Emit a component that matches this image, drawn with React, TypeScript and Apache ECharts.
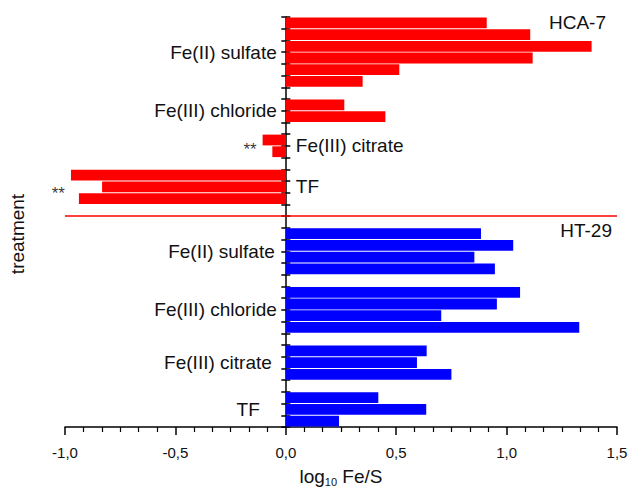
import React, { useEffect, useRef } from 'react';
import * as echarts from 'echarts';

// HCA-7 (red) values, log10 Fe/S
const hcaSulfate = [0.91, 1.107, 1.385, 1.118, 0.514, 0.348];
const hcaChloride = [0.265, 0.451];
const hcaCitrate = [-0.105, -0.061];
const hcaTF = [-0.973, -0.832, -0.937];
// HT-29 (blue) values
const htSulfate = [0.884, 1.03, 0.854, 0.947];
const htChloride = [1.061, 0.956, 0.704, 1.329];
const htCitrate = [0.638, 0.594, 0.75];
const htTF = [0.419, 0.636, 0.241];

const treatments = ['Fe(II) sulfate', 'Fe(III) chloride', 'Fe(III) citrate', 'TF'];
const cellLines = ['HCA-7', 'HT-29'];
const xTickValues = [-1.0, -0.5, 0.0, 0.5, 1.0, 1.5];
// which labels sit to the right of the axis (HCA-7 citrate and TF)
const hcaLabelRight = [false, false, true, true];
// "**" significance markers (HCA-7 citrate, HCA-7 TF)
const sigMarks = ['**', '**'];

const FONT = 'Arial, "Liberation Sans", Helvetica, sans-serif';

export default function App() {
  const ref = useRef<HTMLDivElement>(null);

  useEffect(() => {
    if (!ref.current) return;
    const chart = echarts.init(ref.current, undefined, { renderer: 'svg' });

    const hcaGroups = [hcaSulfate, hcaChloride, hcaCitrate, hcaTF];
    const htGroups = [htSulfate, htChloride, htCitrate, htTF];

    const red: (number | null)[] = [];
    const blue: (number | null)[] = [];
    // label descriptors: center on the slot scale, side, extra right padding
    const labels: { text: string; center: number; right: boolean; pad: number }[] = [];
    const hcaCenters: number[] = [];

    hcaGroups.forEach((g, gi) => {
      const start = red.length;
      g.forEach((v) => {
        red.push(v);
        blue.push(null);
      });
      const center = start + g.length / 2;
      hcaCenters.push(center);
      labels.push({ text: treatments[gi], center, right: hcaLabelRight[gi], pad: 0 });
      red.push(null);
      blue.push(null);
    });
    const separator = red.length; // boundary between cell lines
    red.push(null);
    blue.push(null);
    const htPad = [2, 0, 5, 17];
    htGroups.forEach((g, gi) => {
      const start = blue.length;
      g.forEach((v) => {
        blue.push(v);
        red.push(null);
      });
      const center = start + g.length / 2;
      labels.push({ text: treatments[gi], center, right: false, pad: htPad[gi] });
      if (gi < htGroups.length - 1) {
        red.push(null);
        blue.push(null);
      }
    });
    const nSlots = red.length;
    const cats = red.map((_, i) => String(i));

    const labelColor = '#111';
    const catFont = 19;

    const sigData = [
      { value: [hcaCitrate[0], hcaCenters[2]], label: sigMarks[0] },
      { value: [hcaTF[0], hcaCenters[3] + 0.2], label: sigMarks[1] },
    ];

    const staticGraphics: any[] = [
      {
        type: 'text',
        x: 606,
        y: 22,
        style: { text: cellLines[0], align: 'right', verticalAlign: 'middle', fontSize: 19, fontFamily: FONT, fill: labelColor },
      },
      {
        type: 'text',
        x: 612,
        y: 230,
        style: { text: cellLines[1], align: 'right', verticalAlign: 'middle', fontSize: 19, fontFamily: FONT, fill: labelColor },
      },
      {
        type: 'text',
        x: 17,
        y: 234,
        rotation: Math.PI / 2,
        style: { text: 'treatment', align: 'center', verticalAlign: 'middle', fontSize: 19, fontFamily: FONT, fill: labelColor },
      },
    ];

    chart.setOption({
      animation: false,
      grid: { left: 65, right: 13, top: 17, bottom: 63, containLabel: false, outerBoundsMode: 'none' },
      xAxis: {
        type: 'value',
        min: xTickValues[0],
        max: xTickValues[xTickValues.length - 1],
        interval: 0.5,
        position: 'bottom',
        name: '{a|log}{s|10}{a| Fe/S}',
        nameLocation: 'middle',
        nameGap: 39,
        nameTextStyle: {
          rich: {
            a: { fontSize: 19, fontFamily: FONT, color: labelColor },
            s: { fontSize: 11, fontFamily: FONT, color: labelColor, verticalAlign: 'bottom', padding: [10, 0, 0, 0] },
          },
        },
        axisLine: { onZero: false, lineStyle: { color: '#000', width: 1.5 } },
        axisTick: { length: 8, lineStyle: { color: '#000', width: 1.5 } },
        minorTick: { show: true, splitNumber: 6, length: 5, lineStyle: { color: '#000', width: 1.2 } },
        splitLine: { show: false },
        axisLabel: {
          fontSize: 15,
          fontFamily: FONT,
          color: labelColor,
          margin: 18,
          formatter: (v: number) => v.toFixed(1).replace('.', ','),
        },
      },
      yAxis: [
        {
          type: 'category',
          data: cats,
          inverse: true,
          position: 'left',
          axisLine: { show: true, onZero: true, onZeroAxisIndex: 0, lineStyle: { color: '#000', width: 1.5 } },
          axisTick: { show: true, inside: false, length: 4.5, interval: 0, lineStyle: { color: '#000', width: 1.5 } },
          axisLabel: { show: false, interval: 0 },
          splitLine: { show: false },
        },
        {
          type: 'category',
          data: cats,
          inverse: true,
          position: 'left',
          axisLine: { show: true, onZero: true, onZeroAxisIndex: 0, lineStyle: { color: 'rgba(0,0,0,0)', width: 0 } },
          axisTick: { show: true, inside: true, length: 4.5, interval: 0, lineStyle: { color: '#000', width: 1.5 } },
          axisLabel: { show: false, interval: 0 },
          splitLine: { show: false },
        },
        {
          type: 'value',
          min: 0,
          max: nSlots,
          inverse: true,
          position: 'left',
          show: false,
          splitLine: { show: false },
        },
      ],
      series: [
        {
          type: 'bar',
          name: cellLines[0],
          xAxisIndex: 0,
          yAxisIndex: 0,
          data: red,
          barGap: '-100%',
          barCategoryGap: '8%',
          itemStyle: { color: '#ff0000' },
        },
        {
          type: 'bar',
          name: cellLines[1],
          xAxisIndex: 0,
          yAxisIndex: 0,
          data: blue,
          barGap: '-100%',
          barCategoryGap: '8%',
          itemStyle: { color: '#0000ff' },
        },
        {
          type: 'scatter',
          xAxisIndex: 0,
          yAxisIndex: 2,
          symbolSize: 0,
          data: sigData.map((d) => d.value),
          label: {
            show: true,
            position: 'left',
            distance: 6,
            offset: [0, 4],
            formatter: (p: any) => sigData[p.dataIndex].label,
            fontSize: 17,
            fontFamily: FONT,
            color: '#000',
          },
          markLine: {
            silent: true,
            symbol: 'none',
            label: { show: false },
            lineStyle: { color: '#ff0000', width: 1.5, type: 'solid' },
            data: [{ yAxis: separator }],
          },
        },
      ],
      graphic: staticGraphics,
    });

    // category labels placed at group centres, next to the y axis at x = 0
    const labelGraphics = labels.map((l) => {
      const pt = chart.convertToPixel({ xAxisIndex: 0, yAxisIndex: 2 }, [0, l.center]) as number[];
      return {
        type: 'text',
        x: l.right ? pt[0] + 10 : pt[0] - 9 - l.pad,
        y: pt[1],
        style: {
          text: l.text,
          align: l.right ? 'left' : 'right',
          verticalAlign: 'middle',
          fontSize: catFont,
          fontFamily: FONT,
          fill: labelColor,
        },
      };
    });
    chart.setOption({ graphic: [...staticGraphics, ...labelGraphics] });

    return () => chart.dispose();
  }, []);

  return (
    <div
      ref={ref}
      style={{ position: 'fixed', left: 0, top: 0, width: 630, height: 490, background: '#fff' }}
    />
  );
}
